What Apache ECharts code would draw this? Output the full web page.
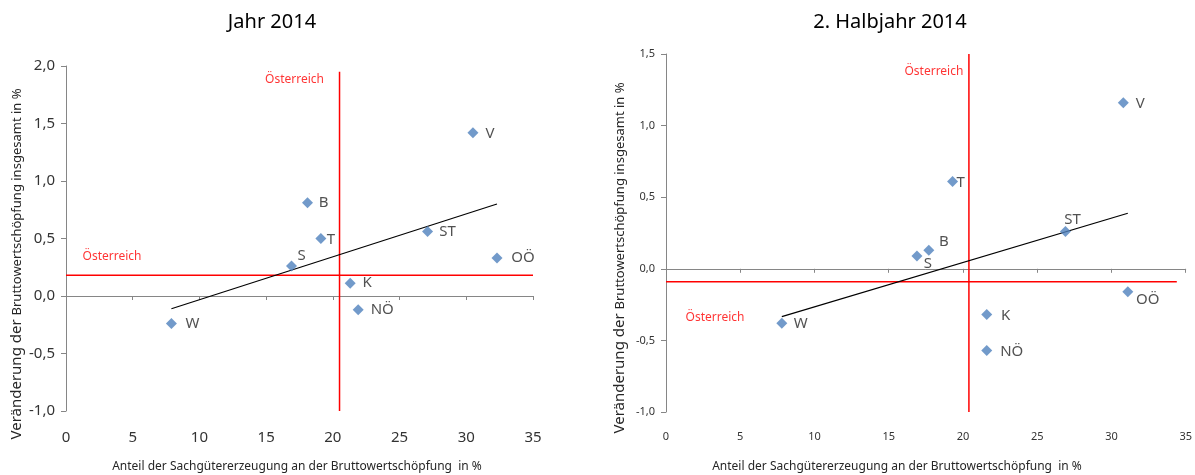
<!DOCTYPE html>
<html>
<head>
<meta charset="utf-8">
<script src="https://cdn.jsdelivr.net/npm/echarts@6/dist/echarts.min.js"></script>
<style>
html,body{margin:0;padding:0;background:#fff;}
#chart{width:1195px;height:475px;}
</style>
</head>
<body>
<div id="chart"></div>
<script>
// ---------- DATA ----------
const regions = ['W', 'NÖ', 'B', 'S', 'K', 'T', 'ST', 'OÖ', 'V'];
// Jahr 2014
const shareYear = [7.9, 21.9, 18.1, 16.9, 21.3, 19.1, 27.1, 32.3, 30.5];
const growthYear = [-0.24, -0.12, 0.81, 0.26, 0.11, 0.50, 0.56, 0.33, 1.42];
// 2. Halbjahr 2014
const shareHalf = [7.8, 21.6, 17.7, 16.9, 21.6, 19.3, 26.9, 31.1, 30.8];
const growthHalf = [-0.38, -0.57, 0.13, 0.09, -0.32, 0.61, 0.26, -0.16, 1.16];
// Österreich reference values [Jahr, Halbjahr]
const austriaShare = [20.5, 20.4];
const austriaGrowth = [0.18, -0.09];
const titles = ['Jahr 2014', '2. Halbjahr 2014'];
const xTitle = 'Anteil der Sachgütererzeugung an der Bruttowertschöpfung  in %';
const yTitleA = 'Veränderung der ';
const yTitleB = 'Bruttowertschöpfung insgesamt in %';
const refLabel = 'Österreich';
const xRange = [0, 35, 5];
const yRangeYear = [-1, 2, 0.5];
const yRangeHalf = [-1, 1.5, 0.5];

// ---------- STYLE ----------
const FONT = 'Noto Sans';
const AXIS = '#868686';
const TXT = '#262626';
const RED = '#ff0000';
const BLUE = '#4f81bd';

const labelOffsetYear = {W:[21,0], 'NÖ':[24,0], B:[16,0], S:[10,-10], K:[17,-1], T:[10,1], ST:[20,0], 'OÖ':[26,0], V:[17,1]};
const labelOffsetHalf = {W:[19,1], 'NÖ':[25,1], B:[15,-8], S:[11,8], K:[19,1], T:[8,1], ST:[7,-12], 'OÖ':[20,8], V:[17,1]};

function regression(xs, ys) {
  const n = xs.length;
  const mx = xs.reduce((a, b) => a + b, 0) / n;
  const my = ys.reduce((a, b) => a + b, 0) / n;
  let sxy = 0, sxx = 0;
  for (let i = 0; i < n; i++) { sxy += (xs[i] - mx) * (ys[i] - my); sxx += (xs[i] - mx) ** 2; }
  const b = sxy / sxx, a = my - b * mx;
  const x0 = Math.min(...xs), x1 = Math.max(...xs);
  return [[x0, a + b * x0], [x1, a + b * x1]];
}

function pts(xs, ys, offs, fontSize) {
  return regions.map((r, i) => ({
    name: r,
    value: [xs[i], ys[i]],
    label: { show: true, position: 'inside', offset: offs[r], formatter: r,
             color: TXT, fontFamily: FONT, fontSize: fontSize }
  }));
}

const yFmt = v => v.toFixed(1).replace('.', ',');

function xAxes(gi, fs) {
  return [
    { type: 'value', gridIndex: gi, min: xRange[0], max: xRange[1], interval: xRange[2],
      axisLine: { show: true, onZero: true, lineStyle: { color: AXIS, width: 1 } },
      axisTick: { show: true, length: 4, lineStyle: { color: AXIS } },
      axisLabel: { show: false }, splitLine: { show: false } },
    { type: 'value', gridIndex: gi, position: 'bottom', min: xRange[0], max: xRange[1], interval: xRange[2],
      axisLine: { show: false, onZero: false }, axisTick: { show: false },
      axisLabel: { show: true, margin: 19, color: '#333', fontFamily: FONT, fontSize: fs },
      splitLine: { show: false } }
  ];
}
function yAxis(gi, rng, fs) {
  return { type: 'value', gridIndex: gi, min: rng[0], max: rng[1], interval: rng[2],
    axisLine: { show: true, onZero: false, lineStyle: { color: AXIS, width: 1 } },
    axisTick: { show: true, length: 5, lineStyle: { color: AXIS } },
    axisLabel: { show: true, margin: 11, formatter: yFmt, color: '#333', fontFamily: FONT, fontSize: fs },
    splitLine: { show: false } };
}

function refSeries(xi, yi, k, vTop, hEnd, vOff, hOff) {
  return [
    { type: 'line', xAxisIndex: xi, yAxisIndex: yi, symbol: 'none', silent: true, z: 1,
      lineStyle: { color: RED, width: 1.5 },
      data: [[0, austriaGrowth[k]], [hEnd, austriaGrowth[k]]] },
    { type: 'line', xAxisIndex: xi, yAxisIndex: yi, symbol: 'none', silent: true, z: 1,
      lineStyle: { color: RED, width: 1.5 },
      data: [[austriaShare[k], -1], [austriaShare[k], vTop]] },
    { type: 'scatter', xAxisIndex: xi, yAxisIndex: yi, symbolSize: 0, silent: true, z: 3,
      itemStyle: { color: 'rgba(0,0,0,0)' },
      label: { show: true, position: 'inside', formatter: refLabel, color: RED, fontFamily: FONT, fontSize: 12 },
      data: [
        { value: [austriaShare[k], vTop], label: { offset: vOff } },
        { value: [0, austriaGrowth[k]], label: { offset: hOff } }
      ] }
  ];
}

const chart = echarts.init(document.getElementById('chart'));
const option = {
  animation: false,
  backgroundColor: '#fff',
  grid: [
    { left: 66, top: 66, width: 467, height: 345 },
    { left: 666, top: 54, width: 524, height: 358 }
  ],
  xAxis: [...xAxes(0, 15), ...xAxes(1, 11)],
  yAxis: [yAxis(0, yRangeYear, 15), yAxis(1, yRangeHalf, 11)],
  series: [
    ...refSeries(0, 0, 0, 1.95, 35, [-45, 8], [46, -19]),
    { type: 'line', xAxisIndex: 0, yAxisIndex: 0, symbol: 'none', silent: true, z: 2,
      lineStyle: { color: '#000', width: 1.2 }, data: regression(shareYear, growthYear) },
    { type: 'scatter', xAxisIndex: 0, yAxisIndex: 0, symbol: 'diamond', symbolSize: 11, z: 4,
      itemStyle: { color: BLUE }, data: pts(shareYear, growthYear, labelOffsetYear, 15) },

    ...refSeries(2, 1, 1, 1.5, 34.4, [-35, 18], [49, 36]),
    { type: 'line', xAxisIndex: 2, yAxisIndex: 1, symbol: 'none', silent: true, z: 2,
      lineStyle: { color: '#000', width: 1.2 }, data: regression(shareHalf, growthHalf) },
    { type: 'scatter', xAxisIndex: 2, yAxisIndex: 1, symbol: 'diamond', symbolSize: 11, z: 4,
      itemStyle: { color: BLUE }, data: pts(shareHalf, growthHalf, labelOffsetHalf, 15) }
  ],
  graphic: [
    { type: 'text', x: 272, y: 22, style: { text: titles[0], fill: '#000', font: '20px "Noto Sans"', align: 'center', verticalAlign: 'middle' } },
    { type: 'text', x: 890, y: 22, style: { text: titles[1], fill: '#000', font: '20px "Noto Sans"', align: 'center', verticalAlign: 'middle' } },
    { type: 'text', x: 297, y: 467, style: { text: xTitle, fill: TXT, font: '12px "Noto Sans"', align: 'center', verticalAlign: 'middle' } },
    { type: 'text', x: 897, y: 467, style: { text: xTitle, fill: TXT, font: '12px "Noto Sans"', align: 'center', verticalAlign: 'middle' } },
    { type: 'text', x: 17, y: 264, rotation: Math.PI / 2,
      style: { text: '{a|' + yTitleA + '}{b|' + yTitleB + '}', align: 'center', verticalAlign: 'middle',
        rich: { a: { fontSize: 15, fontFamily: FONT, fill: TXT }, b: { fontSize: 13, fontFamily: FONT, fill: TXT } } } },
    { type: 'text', x: 620, y: 258, rotation: Math.PI / 2,
      style: { text: '{a|' + yTitleA + '}{b|' + yTitleB + '}', align: 'center', verticalAlign: 'middle',
        rich: { a: { fontSize: 15, fontFamily: FONT, fill: TXT }, b: { fontSize: 13, fontFamily: FONT, fill: TXT } } } }
  ]
};
chart.setOption(option);
</script>
</body>
</html>
